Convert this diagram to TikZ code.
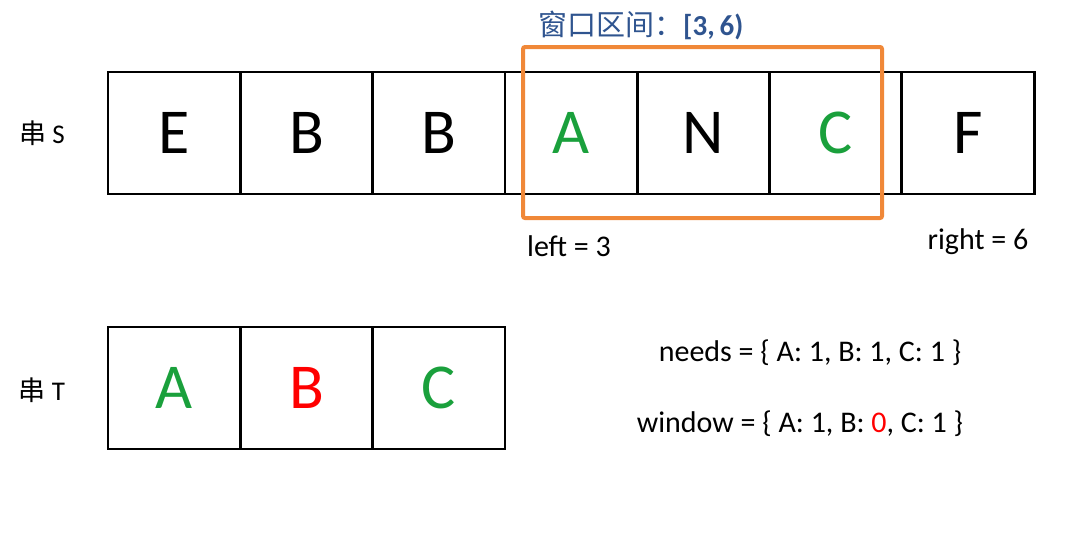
\documentclass[tikz,border=0pt]{standalone}
\usepackage{fontspec}
\setmainfont{Carlito}
\newfontfamily\cjk{Noto Sans CJK SC}
\definecolor{mygreen}{RGB}{26,160,60}
\definecolor{myorange}{RGB}{240,136,56}
\definecolor{myblue}{RGB}{47,84,143}
\begin{document}
\begin{tikzpicture}[x=1pt,y=-1pt,
  cell/.style={draw,line width=2.8pt,minimum width=132.3pt,minimum height=122pt,inner sep=0pt,
    font=\fontsize{64}{64}\selectfont},
  lbl/.style={inner sep=0pt,font=\fontsize{30}{30}\selectfont},
  rowlbl/.style={inner sep=0pt,font=\fontsize{27}{27}\selectfont}]
\useasboundingbox (0,0) rectangle (1071,539);
% string S
\foreach \i/\t/\c in {1/E/black,2/B/black,3/B/black,4/A/mygreen,5/N/black,6/C/mygreen,7/F/black}{
  \node[cell,text=\c] (s\i) at ({108+132.3*(\i-0.5)},133) {\t};
}
% string T
\foreach \i/\t/\c in {1/A/mygreen,2/B/red,3/C/mygreen}{
  \node[cell,text=\c] (t\i) at ({108+132.3*(\i-0.5)},388) {\t};
}
\node[rowlbl] (ls) at (42,133) {{\cjk 串} S};
\node[rowlbl] (lt) at (42,390) {{\cjk 串} T};
% window
\draw[myorange,line width=4pt,rounded corners=2pt] (523,47) rectangle (882,218);
\node[inner sep=0pt,text=myblue,anchor=west] (title) at (538,25)
  {\fontsize{29}{29}\selectfont{\cjk 窗口区间：}\textbf{[3,\,6)}};
\node[lbl] (left) at (569,246) {left = 3};
\node[lbl] (right) at (978,242) {right = 6};
\node[lbl] (needs) at (810,353) {needs = \{ A: 1, B: 1, C: 1 \}};
\node[lbl] (window) at (800,424) {window = \{ A: 1, B: \textcolor{red}{0}, C: 1 \}};
\end{tikzpicture}
\end{document}
